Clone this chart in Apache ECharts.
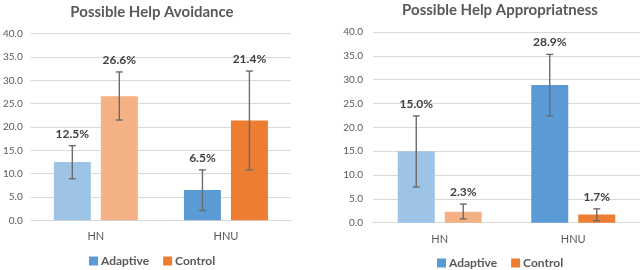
<!DOCTYPE html>
<html><head><meta charset="utf-8">
<script src="https://cdn.jsdelivr.net/npm/echarts@6/dist/echarts.min.js"></script>
<style>html,body{margin:0;padding:0;background:#fff}#c{width:640px;height:270px}</style>
</head><body><div id="c"></div>
<script>
const categories = ['HN', 'HNU'];
const seriesNames = ['Adaptive', 'Control'];
const titles = ['Possible Help Avoidance', 'Possible Help Appropriatness'];
const yTicks = [0, 5, 10, 15, 20, 25, 30, 35, 40];
// chart 1: Possible Help Avoidance
const avoidAdaptive = [12.5, 6.5];
const avoidAdaptiveLow = [8.9, 2.1];
const avoidAdaptiveHigh = [16.0, 10.8];
const avoidControl = [26.6, 21.4];
const avoidControlLow = [21.5, 10.8];
const avoidControlHigh = [31.8, 32.0];
// chart 2: Possible Help Appropriatness
const apprAdaptive = [15.0, 28.9];
const apprAdaptiveLow = [7.5, 22.4];
const apprAdaptiveHigh = [22.4, 35.3];
const apprControl = [2.3, 1.7];
const apprControlLow = [0.8, 0.4];
const apprControlHigh = [3.9, 2.9];

const colAdaptive = ['#9DC3E6', '#5B9BD5'];
const colControl = ['#F4B183', '#ED7D31'];
const FONT = 'Lato, "Open Sans", sans-serif';
const BAR_W = 37, BAR_GAP = '27%';

const chart = echarts.init(document.getElementById('c'), null, {renderer: 'canvas'});

const grids = [
  {left: 28, right: 349, top: 33.7, bottom: 49.7},
  {left: 373, right: -1, top: 32, bottom: 47.3}
];

function barSeries(name, gi, vals, cols) {
  return {
    type: 'bar', name: name, xAxisIndex: gi, yAxisIndex: gi,
    barWidth: BAR_W, barGap: BAR_GAP,
    itemStyle: {color: cols[1]},
    data: vals.map((v, i) => ({value: v, itemStyle: {color: cols[i]}})),
    z: 2
  };
}

function errSeries(name, gi, vals, low, high, offsetSign) {
  return {
    type: 'custom', name: name, xAxisIndex: gi, yAxisIndex: gi, z: 5,
    data: vals.map((v, i) => [i, v, low[i], high[i]]),
    renderItem: function (params, api) {
      const idx = api.value(0);
      const c = api.coord([idx, 0]);
      const bw = BAR_W, gap = BAR_W * 0.27;
      const x = c[0] + offsetSign * (bw / 2 + gap / 2);
      const yl = api.coord([idx, api.value(2)])[1];
      const yh = api.coord([idx, api.value(3)])[1];
      const cap = 3.5;
      const st = {stroke: '#6b6b6b', lineWidth: 1.4};
      return {
        type: 'group',
        children: [
          {type: 'line', shape: {x1: x, y1: yl, x2: x, y2: yh}, style: st},
          {type: 'line', shape: {x1: x - cap, y1: yl, x2: x + cap, y2: yl}, style: st},
          {type: 'line', shape: {x1: x - cap, y1: yh, x2: x + cap, y2: yh}, style: st},
          {type: 'text', x: x, y: yh - 12, style: {
            text: api.value(1).toFixed(1) + '%', fill: '#404040',
            font: 'bold 12px ' + FONT, align: 'center', verticalAlign: 'middle'}}
        ]
      };
    }
  };
}

const legendText = {fontSize: 12, fontWeight: 'bold', color: '#595959', fontFamily: FONT, padding: [0, 0, 0, -2]};

const option = {
  animation: false,
  textStyle: {fontFamily: FONT},
  title: [
    {text: titles[0], left: 147, top: 0, textAlign: 'center',
     textStyle: {fontSize: 15, fontWeight: 'bold', color: '#595959', fontFamily: FONT}},
    {text: titles[1], left: 495, top: -2, textAlign: 'center',
     textStyle: {fontSize: 15, fontWeight: 'bold', color: '#595959', fontFamily: FONT}}
  ],
  legend: [
    {data: seriesNames, left: 84, top: 250, itemWidth: 9, itemHeight: 9, itemGap: 14,
     icon: 'rect', textStyle: legendText},
    {data: seriesNames, left: 432, top: 252, itemWidth: 9, itemHeight: 9, itemGap: 14,
     icon: 'rect', textStyle: legendText}
  ],
  grid: grids,
  xAxis: [0, 1].map(gi => ({
    type: 'category', gridIndex: gi, data: categories,
    axisLine: {show: true, lineStyle: {color: '#D9D9D9', width: 1}},
    axisTick: {show: false},
    axisLabel: {color: '#595959', fontSize: 11, margin: 11, fontFamily: FONT}
  })),
  yAxis: [0, 1].map(gi => ({
    type: 'value', gridIndex: gi, min: yTicks[0], max: yTicks[yTicks.length - 1], interval: 5,
    axisLine: {show: false}, axisTick: {show: false},
    splitLine: {lineStyle: {color: '#D9D9D9', width: 1}},
    axisLabel: {color: '#595959', fontSize: 10, margin: gi === 0 ? 8 : 10, fontFamily: FONT,
      formatter: v => v.toFixed(1)}
  })),
  series: [
    barSeries('Adaptive', 0, avoidAdaptive, colAdaptive),
    barSeries('Control', 0, avoidControl, colControl),
    errSeries('errA0', 0, avoidAdaptive, avoidAdaptiveLow, avoidAdaptiveHigh, -1),
    errSeries('errC0', 0, avoidControl, avoidControlLow, avoidControlHigh, 1),
    barSeries('Adaptive', 1, apprAdaptive, colAdaptive),
    barSeries('Control', 1, apprControl, colControl),
    errSeries('errA1', 1, apprAdaptive, apprAdaptiveLow, apprAdaptiveHigh, -1),
    errSeries('errC1', 1, apprControl, apprControlLow, apprControlHigh, 1)
  ]
};
chart.setOption(option);
</script></body></html>
